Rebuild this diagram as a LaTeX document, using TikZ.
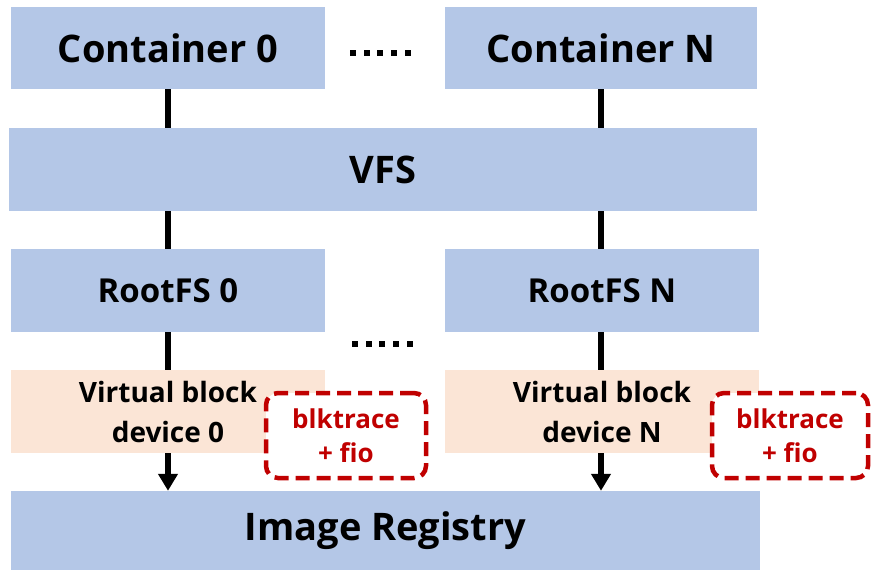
\documentclass[tikz,border=0pt]{standalone}
\usepackage{fontspec}
\setmainfont{Open Sans}
\usetikzlibrary{arrows.meta}
\definecolor{boxblue}{HTML}{B4C7E7}
\definecolor{boxpeach}{HTML}{FBE5D6}
\definecolor{tracered}{HTML}{C00000}
\begin{document}
\begin{tikzpicture}[x=1pt,y=-1pt,
  layer/.style={fill=boxblue, draw=none, inner sep=0pt, align=center,
    font=\bfseries},
  vdev/.style={layer, fill=boxpeach},
  tracebox/.style={draw=tracered, fill=white, line width=4.5pt,
    dash pattern=on 14pt off 7pt, rounded corners=12pt, inner sep=0pt,
    align=center, text=tracered,
    font=\bfseries\fontsize{26}{34}\selectfont},
  link/.style={line width=5.5pt, draw=black},
  linkarrow/.style={link, -{Triangle[width=19pt,length=17pt]}},
  dotmark/.style={fill=black, draw=none, inner sep=0pt, minimum size=6pt}]
\useasboundingbox (0,0) rectangle (871,571);

% container layer
\node[layer, minimum width=314pt, minimum height=82pt,
  font=\bfseries\fontsize{38}{40}\selectfont] (c0) at (168,48) {Container 0};
\node[layer, minimum width=312pt, minimum height=82pt,
  font=\bfseries\fontsize{38}{40}\selectfont] (cN) at (601,48) {Container N};
\foreach \i in {0,...,4}
  \node[dotmark] (dotsTop\i) at (353+13.7*\i,53) {};

% VFS
\node[layer, minimum width=748pt, minimum height=83pt,
  font=\bfseries\fontsize{38}{40}\selectfont] (vfs) at (383,169.5) {VFS};

% root file systems
\node[layer, minimum width=314pt, minimum height=83pt,
  font=\bfseries\fontsize{33}{36}\selectfont] (r0) at (168,290.5) {RootFS 0};
\node[layer, minimum width=314pt, minimum height=83pt,
  font=\bfseries\fontsize{33}{36}\selectfont] (rN) at (602,290.5) {RootFS N};
\foreach \i in {0,...,4}
  \node[dotmark] (dotsMid\i) at (355+13.7*\i,343.5) {};

% virtual block devices
\node[vdev, minimum width=314pt, minimum height=83pt,
  font=\bfseries\fontsize{28}{40}\selectfont] (v0) at (168,411.5)
  {Virtual block\\device 0};
\node[vdev, minimum width=314pt, minimum height=83pt,
  font=\bfseries\fontsize{28}{40}\selectfont] (vN) at (602,411.5)
  {Virtual block\\device N};

% tracing tools
\node[tracebox, minimum width=160pt, minimum height=85pt] (t0) at (346,435.5)
  {blktrace\\+ fio};
\node[tracebox, minimum width=156pt, minimum height=85pt] (tN) at (790,435.5)
  {blktrace\\+ fio};

% registry
\node[layer, minimum width=749pt, minimum height=79pt,
  font=\bfseries\fontsize{38}{40}\selectfont] (reg) at (385.5,530.5)
  {Image Registry};

% connectors
\draw[link] (c0.south) -- (c0.south |- vfs.north);
\draw[link] (cN.south) -- (cN.south |- vfs.north);
\draw[link] (vfs.south -| c0) -- (r0.north);
\draw[link] (vfs.south -| cN) -- (r0.north -| cN);
\draw[link] (r0.south) -- (v0.north);
\draw[link] (rN.south -| cN) -- (v0.north -| cN);
\draw[linkarrow] (v0.south) -- (v0.south |- reg.north);
\draw[linkarrow] (vN.south -| cN) -- (reg.north -| cN);
\end{tikzpicture}
\end{document}
